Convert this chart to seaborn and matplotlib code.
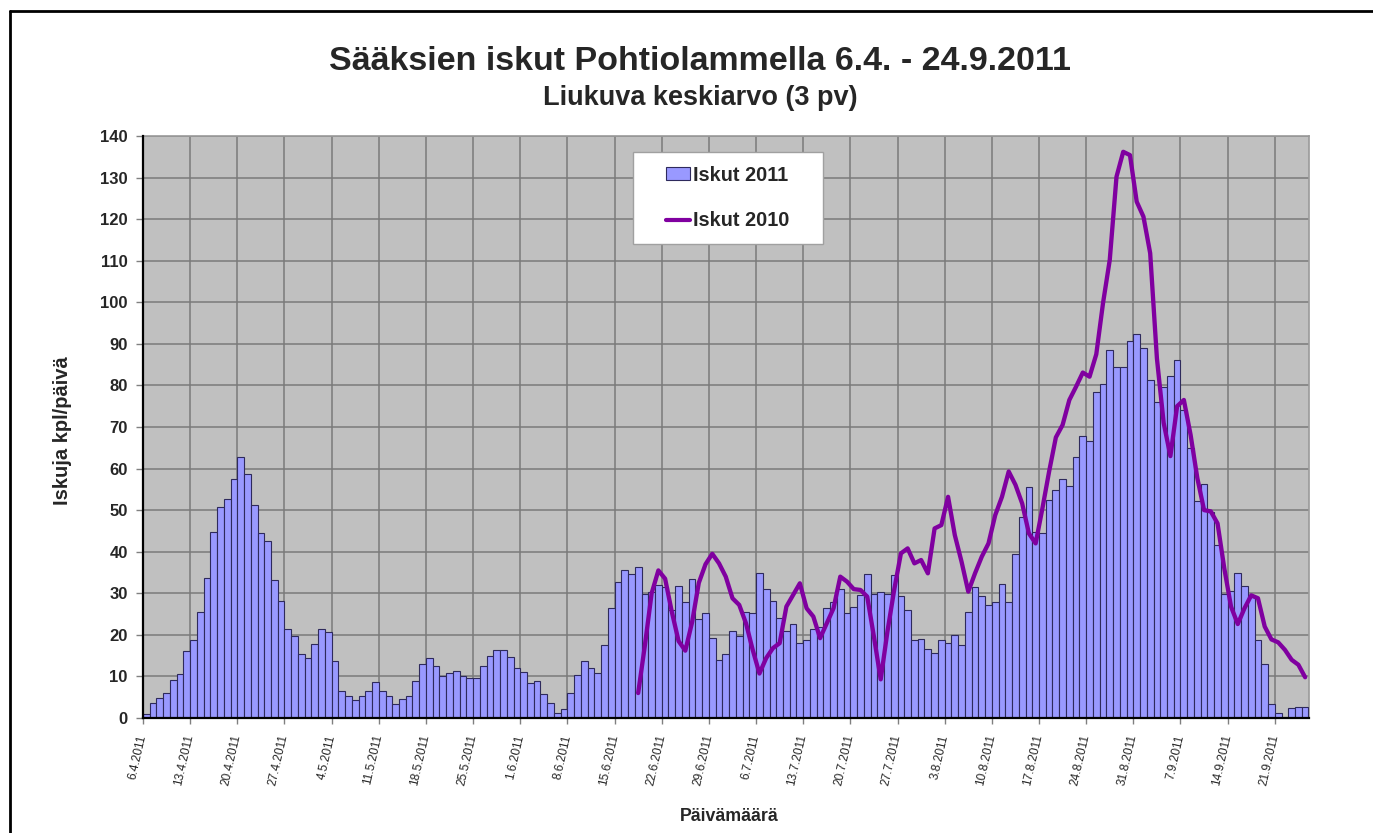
import matplotlib
matplotlib.use("Agg")
import matplotlib.pyplot as plt
import matplotlib.patches as mpatches
from matplotlib.lines import Line2D
import seaborn as sns
import pandas as pd
import numpy as np

# ---------------- data ----------------
dates = pd.date_range("2011-04-06", periods=173, freq="D")

iskut_2011 = [
    1.0, 3.7, 4.9, 6.1, 9.1, 10.5, 16.0, 18.7, 25.5, 33.7,
    44.8, 50.8, 52.8, 57.5, 62.7, 58.6, 51.2, 44.4, 42.5, 33.2,
    28.2, 21.4, 19.8, 15.5, 14.5, 17.9, 21.4, 20.6, 13.7, 6.4,
    5.2, 4.4, 5.2, 6.4, 8.7, 6.4, 5.2, 3.3, 4.5, 5.2,
    8.8, 12.9, 14.5, 12.5, 10.0, 10.8, 11.4, 10.0, 9.6, 9.6,
    12.6, 14.9, 16.4, 16.4, 14.6, 12.0, 11.0, 8.4, 8.8, 5.8,
    3.5, 1.1, 2.2, 6.1, 10.4, 13.8, 12.0, 10.8, 17.6, 26.4,
    32.6, 35.7, 34.6, 36.3, 29.9, 30.3, 32.0, 31.5, 26.0, 31.8,
    28.0, 33.4, 23.7, 25.2, 19.2, 13.9, 15.3, 21.0, 19.8, 25.6,
    25.2, 34.8, 31.0, 28.2, 24.1, 20.9, 22.5, 18.0, 18.8, 21.3,
    22.0, 26.4, 28.0, 31.0, 25.3, 26.6, 29.6, 34.6, 29.8, 30.2,
    29.8, 34.4, 29.4, 26.0, 18.8, 19.0, 16.5, 15.7, 18.8, 18.0,
    19.9, 17.6, 25.6, 31.4, 29.4, 27.2, 28.0, 32.2, 28.0, 39.4,
    48.3, 55.5, 44.8, 44.4, 52.4, 54.9, 57.4, 55.9, 62.9, 67.8,
    66.6, 78.3, 80.4, 88.5, 84.5, 84.5, 90.7, 92.3, 88.9, 81.2,
    75.9, 79.7, 82.3, 86.1, 74.0, 64.9, 52.3, 56.3, 49.5, 41.6,
    29.8, 30.5, 34.8, 31.7, 29.2, 18.8, 13.0, 3.4, 1.1, 0.0,
    2.3, 2.7, 2.7,
]

# 2010 series starts on day index 73 (18.6.)
iskut_2010_start = 73
iskut_2010 = [
    6.0, 17.5, 30.0, 35.5, 33.5, 25.5, 18.5, 16.2, 23.0, 32.5,
    37.0, 39.5, 37.2, 34.0, 28.8, 27.2, 22.8, 16.4, 10.7, 14.4,
    16.8, 18.0, 26.8, 29.6, 32.4, 26.4, 24.4, 19.2, 22.8, 26.4,
    34.0, 32.8, 31.0, 30.8, 29.2, 19.5, 9.3, 20.8, 30.8, 39.6,
    40.8, 37.2, 38.0, 34.8, 45.6, 46.4, 53.2, 44.0, 37.6, 30.4,
    34.8, 38.8, 42.0, 48.8, 53.2, 59.3, 56.1, 51.6, 44.4, 42.0,
    50.4, 59.3, 67.5, 70.5, 76.5, 79.7, 83.1, 82.1, 87.5, 99.8,
    110.2, 130.2, 136.2, 135.4, 124.2, 120.6, 111.8, 86.5, 71.0, 63.0,
    75.0, 76.5, 68.1, 57.7, 50.0, 49.7, 46.8, 36.0, 26.8, 22.6,
    26.4, 29.5, 28.8, 22.0, 18.9, 18.2, 16.4, 14.0, 12.8, 9.8,
]

tick_labels = [
    "6.4.2011", "13.4.2011", "20.4.2011", "27.4.2011", "4.5.2011",
    "11.5.2011", "18.5.2011", "25.5.2011", "1.6.2011", "8.6.2011",
    "15.6.2011", "22.6.2011", "29.6.2011", "6.7.2011", "13.7.2011",
    "20.7.2011", "27.7.2011", "3.8.2011", "10.8.2011", "17.8.2011",
    "24.8.2011", "31.8.2011", "7.9.2011", "14.9.2011", "21.9.2011",
]
y_ticks = [0, 10, 20, 30, 40, 50, 60, 70, 80, 90, 100, 110, 120, 130, 140]

title = "Sääksien iskut Pohtiolammella 6.4. - 24.9.2011"
subtitle = "Liukuva keskiarvo (3 pv)"
y_label = "Iskuja kpl/päivä"
x_label = "Päivämäärä"
legend_labels = ["Iskut 2011", "Iskut 2010"]

# ---------------- frames ----------------
df_bars = pd.DataFrame({"pos": np.arange(len(iskut_2011)),
                        "date": dates[:len(iskut_2011)],
                        "value": iskut_2011})
df_line = pd.DataFrame({"pos": np.arange(iskut_2010_start, iskut_2010_start + len(iskut_2010)),
                        "value": iskut_2010})

# ---------------- style ----------------
sns.set_style("white")
plt.rcParams["font.family"] = ["Liberation Sans", "DejaVu Sans"]

BAR_COLOR = "#9999FF"
BAR_EDGE = "#2E2A5C"
LINE_COLOR = "#8000A0"
BG = "#C0C0C0"
GRID = "#7A7A7A"

fig = plt.figure(figsize=(13.73, 8.33), dpi=100)
ax = fig.add_axes([143 / 1373, 1 - 718 / 833, 1165.5 / 1373, 582 / 833])
ax.set_facecolor(BG)

sns.barplot(data=df_bars, x="pos", y="value", ax=ax, color=BAR_COLOR,
            edgecolor=BAR_EDGE, linewidth=0.8, width=1.0, saturation=1,
            errorbar=None, zorder=3)
sns.lineplot(data=df_line, x="pos", y="value", ax=ax, color=LINE_COLOR,
             linewidth=3.1, zorder=4, solid_joinstyle="round",
             solid_capstyle="round")

n = len(iskut_2011)
ax.set_xlim(-0.5, n - 0.5)
ax.set_ylim(0, 140)

tick_pos = [i * 7 - 0.5 for i in range(len(tick_labels))]
ax.set_xticks(tick_pos)
ax.set_xticklabels(tick_labels, rotation=77, ha="right", va="center",
                   rotation_mode="anchor", fontsize=8.6)
ax.set_yticks(y_ticks)
ax.set_yticklabels([str(v) for v in y_ticks], fontsize=12, fontweight="bold")

ax.tick_params(axis="x", length=4, width=1, color="#808080", pad=8, bottom=True)
ax.tick_params(axis="y", length=5, width=1, color="#808080", pad=6, left=True)

ax.grid(True, axis="both", color=GRID, linewidth=1.1, zorder=0)
ax.set_axisbelow(True)

for side in ["left", "bottom"]:
    ax.spines[side].set_color("black")
    ax.spines[side].set_linewidth(1.6)
    ax.spines[side].set_zorder(6)
for side in ["top", "right"]:
    ax.spines[side].set_visible(True)
    ax.spines[side].set_color("#9A9A9A")
    ax.spines[side].set_linewidth(1.2)

ax.set_ylabel(y_label, fontsize=14.5, fontweight="bold")
ax.yaxis.set_label_coords((72 - 143) / 1165.5, 0.493)
ax.set_xlabel(x_label, fontsize=12.8, fontweight="bold")
ax.xaxis.set_label_coords((729 - 143) / 1165.5, (718 - 808) / 582)

fig.text(700 / 1373, 1 - 62 / 833, title, ha="center", va="center",
         fontsize=24.5, fontweight="bold")
fig.text(700 / 1373, 1 - 98 / 833, subtitle, ha="center", va="center",
         fontsize=19.5, fontweight="bold")

# legend box
box = mpatches.Rectangle((632.7 / 1373, 1 - 244.3 / 833), 190 / 1373, 92.6 / 833,
                         transform=fig.transFigure, facecolor="white",
                         edgecolor="#A0A0A0", linewidth=1.0, zorder=7, clip_on=False)
ax.add_patch(box)
handles = [mpatches.Patch(facecolor=BAR_COLOR, edgecolor=BAR_EDGE, linewidth=0.8),
           Line2D([0], [0], color=LINE_COLOR, linewidth=3.0)]
leg = ax.legend(handles, legend_labels, loc="center",
                bbox_to_anchor=(727.7 / 1373, 1 - 198 / 833),
                bbox_transform=fig.transFigure, frameon=False,
                prop={"size": 14.3, "weight": "bold"},
                handlelength=1.25, handleheight=0.62, handletextpad=0.15,
                labelspacing=1.35)
leg.set_zorder(8)

# outer frame (top and left)
fig.add_artist(Line2D([10 / 1373, 1.0], [1 - 11 / 833, 1 - 11 / 833],
                      transform=fig.transFigure, color="black", linewidth=2))
fig.add_artist(Line2D([10 / 1373, 10 / 1373], [0, 1 - 11 / 833],
                      transform=fig.transFigure, color="black", linewidth=2))

fig.savefig("out.png", dpi=100)
